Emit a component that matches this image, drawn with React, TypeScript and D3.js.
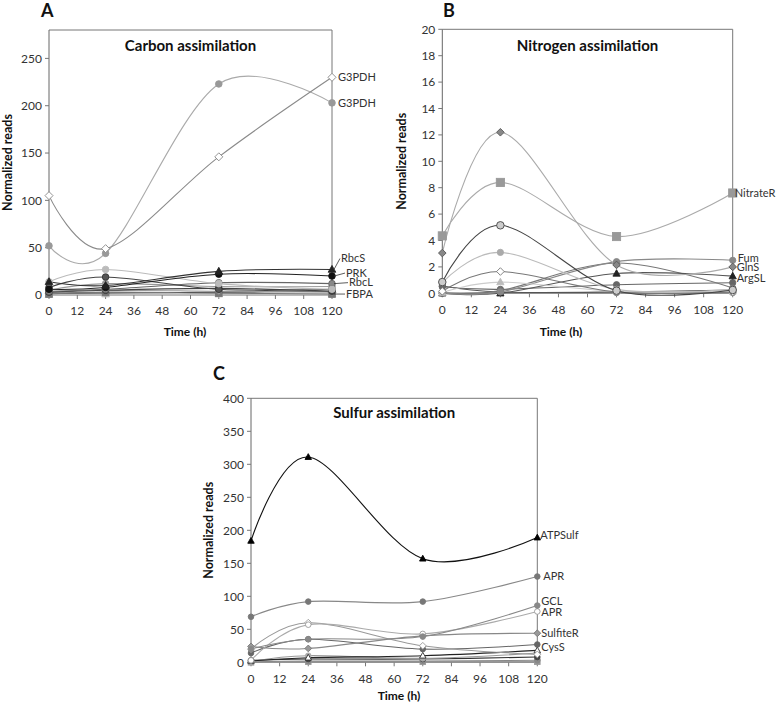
import React from "react";
import * as d3 from "d3";

// ---------- data ----------
const times = [0, 24, 72, 120];
const xTicks = [0, 12, 24, 36, 48, 60, 72, 84, 96, 108, 120];
const carbonYTicks = [0, 50, 100, 150, 200, 250];
const nitrogenYTicks = [0, 2, 4, 6, 8, 10, 12, 14, 16, 18, 20];
const sulfurYTicks = [0, 50, 100, 150, 200, 250, 300, 350, 400];

const carbonNames = ["G3PDH", "G3PDH", "RbcS", "PRK", "s5", "s6", "RbcL", "s8", "s9", "FBPA", "s11", "s12", "s13"];
const carbonValues = [
  [105, 49, 146, 230],
  [52, 44, 223, 203],
  [14, 10, 25, 27],
  [6, 8, 22, 20],
  [14, 27, 12, 6],
  [8, 19, 6, 6],
  [4, 6, 13, 12],
  [3, 5, 7, 4],
  [2, 5, 4, 3],
  [1, 3, 2, 1],
  [0.5, 1, 1, 1],
  [5, 12, 9, 9],
  [2, 2, 3, 4],
];

const nitrogenNames = ["GlnS", "NitrateR", "n3", "n4", "n5", "n6", "Fum", "ArgSL", "n9", "n10", "n11", "n12"];
const nitrogenValues = [
  [3.05, 12.2, 2.15, 2.0],
  [4.35, 8.4, 4.3, 7.6],
  [0.85, 5.15, 0.2, 0.25],
  [0.8, 3.1, 0.3, 0.3],
  [0.15, 1.65, 0.1, 0.1],
  [0.05, 0.85, 0.15, 0.15],
  [0.05, 0.1, 2.4, 2.5],
  [0, 0, 1.5, 1.3],
  [0.05, 0.2, 2.3, 0.4],
  [0.5, 0.3, 0.65, 0.8],
  [0.55, 0.1, 0.1, 0.25],
  [0, 0.05, 0.05, 0.05],
];

const sulfurNames = ["ATPSulf", "APR", "GCL", "APR", "c5", "SulfiteR", "c7", "CysS", "c9", "c10", "c11", "c12"];
const sulfurValues = [
  [184, 311, 157, 189],
  [69, 92, 92, 130],
  [20, 35, 39, 86],
  [3, 57, 43, 77],
  [20, 60, 25, 12],
  [24, 21, 40, 44],
  [14, 35, 20, 27],
  [2, 7, 10, 18],
  [1, 10, 6, 14],
  [3, 5, 5, 8],
  [0.5, 2, 2, 3],
  [0, 1, 1, 1],
];

// ---------- styles (kept separate from data) ----------
type Style = { shape: string; fill: string; stroke: string; line: string; size?: number };
const carbonStyles: Style[] = [
  { shape: "diamond", fill: "#fff", stroke: "#888", line: "#8a8a8a" },
  { shape: "circle", fill: "#999", stroke: "#999", line: "#aaa" },
  { shape: "triangle", fill: "#222", stroke: "#222", line: "#333" },
  { shape: "circle", fill: "#111", stroke: "#111", line: "#222" },
  { shape: "circle", fill: "#bbb", stroke: "#bbb", line: "#bbb" },
  { shape: "circle", fill: "#555", stroke: "#333", line: "#444" },
  { shape: "circle", fill: "#888", stroke: "#666", line: "#666" },
  { shape: "circle", fill: "#444", stroke: "#333", line: "#444" },
  { shape: "diamond", fill: "#999", stroke: "#777", line: "#999" },
  { shape: "square", fill: "#777", stroke: "#777", line: "#777" },
  { shape: "triangle", fill: "#bbb", stroke: "#bbb", line: "#bbb" },
  { shape: "circle", fill: "#999", stroke: "#999", line: "#999" },
  { shape: "circle", fill: "#222", stroke: "#222", line: "#222" },
];
const nitrogenStyles: Style[] = [
  { shape: "diamond", fill: "#888", stroke: "#555", line: "#aaa" },
  { shape: "square", fill: "#999", stroke: "#999", line: "#aaa", size: 1.3 },
  { shape: "circle", fill: "#ccc", stroke: "#444", line: "#444", size: 1.2 },
  { shape: "circle", fill: "#aaa", stroke: "#aaa", line: "#bbb" },
  { shape: "diamond", fill: "#fff", stroke: "#777", line: "#777" },
  { shape: "triangle", fill: "#bbb", stroke: "#bbb", line: "#ccc" },
  { shape: "circle", fill: "#888", stroke: "#888", line: "#888" },
  { shape: "triangle", fill: "#222", stroke: "#222", line: "#555" },
  { shape: "circle", fill: "#777", stroke: "#777", line: "#777" },
  { shape: "circle", fill: "#666", stroke: "#666", line: "#666" },
  { shape: "circle", fill: "#555", stroke: "#555", line: "#555" },
  { shape: "circle", fill: "#999", stroke: "#999", line: "#999" },
];
const sulfurStyles: Style[] = [
  { shape: "triangle", fill: "#000", stroke: "#000", line: "#111" },
  { shape: "circle", fill: "#777", stroke: "#777", line: "#888" },
  { shape: "circle", fill: "#888", stroke: "#888", line: "#888" },
  { shape: "circle", fill: "#fff", stroke: "#999", line: "#aaa" },
  { shape: "diamond", fill: "#fff", stroke: "#999", line: "#999" },
  { shape: "diamond", fill: "#999", stroke: "#777", line: "#888" },
  { shape: "circle", fill: "#666", stroke: "#666", line: "#666" },
  { shape: "triangle", fill: "#fff", stroke: "#333", line: "#222" },
  { shape: "circle", fill: "#aaa", stroke: "#aaa", line: "#999" },
  { shape: "circle", fill: "#444", stroke: "#444", line: "#333" },
  { shape: "circle", fill: "#888", stroke: "#888", line: "#888" },
  { shape: "square", fill: "#999", stroke: "#999", line: "#999" },
];

// right-side labels: series index, text nudge (px), whether a leader line is drawn
const carbonLabels = [
  { i: 0, dx: 6, dy: 0, leader: false },
  { i: 1, dx: 6, dy: 0, leader: false },
  { i: 2, dx: 9, dy: -11, leader: true },
  { i: 3, dx: 14, dy: -3, leader: true },
  { i: 6, dx: 17, dy: -1, leader: true },
  { i: 9, dx: 14, dy: 0, leader: true },
];
const nitrogenLabels = [
  { i: 1, dx: 2, dy: 0, leader: false },
  { i: 6, dx: 5, dy: -2.5, leader: false },
  { i: 0, dx: 4, dy: 0, leader: false },
  { i: 7, dx: 4, dy: 2.5, leader: false },
];
const sulfurLabels = [
  { i: 0, dx: 3, dy: -2, leader: false },
  { i: 1, dx: 6, dy: 0, leader: false },
  { i: 2, dx: 4, dy: -4, leader: false },
  { i: 3, dx: 4, dy: 1, leader: false },
  { i: 5, dx: 4, dy: 0, leader: false },
  { i: 7, dx: 4, dy: -3, leader: false },
];

const FONT = "Lato, 'Open Sans', sans-serif";

function Marker({ x, y, st, scale }: { x: number; y: number; st: Style; scale: number }) {
  const s = (st.size || 1) * scale;
  const common = { fill: st.fill, stroke: st.stroke, strokeWidth: 0.9 };
  if (st.shape === "circle") return <circle cx={x} cy={y} r={3.3 * s} {...common} />;
  if (st.shape === "square")
    return <rect x={x - 3.3 * s} y={y - 3.3 * s} width={6.6 * s} height={6.6 * s} {...common} />;
  if (st.shape === "diamond") {
    const r = 4 * s;
    return <path d={`M${x},${y - r}L${x + r},${y}L${x},${y + r}L${x - r},${y}Z`} {...common} />;
  }
  const r = 4 * s;
  return <path d={`M${x},${y - r}L${x + r * 0.95},${y + r * 0.7}L${x - r * 0.95},${y + r * 0.7}Z`} {...common} />;
}

type PanelProps = {
  letter: string;
  letterPos: [number, number];
  title: string;
  titleY: number;
  xRange: [number, number];
  yRange: [number, number];
  yMax: number;
  yTicks: number[];
  names: string[];
  values: number[][];
  styles: Style[];
  labels: { i: number; dx: number; dy: number; leader: boolean }[];
  yLabelX: number;
  timeX: number;
  timeY: number;
  markerScale: number;
};

function Panel(p: PanelProps) {
  const x = d3.scaleLinear().domain([0, 120]).range(p.xRange);
  const y = d3.scaleLinear().domain([0, p.yMax]).range(p.yRange);
  const line = d3
    .line<number>()
    .x((_, i) => x(times[i]))
    .y((v) => y(v))
    .curve(d3.curveCardinal.tension(0));
  const [x0, x1] = p.xRange;
  const [yb, yt] = p.yRange;
  const order = p.values.map((_, i) => i).reverse();
  return (
    <g fontFamily={FONT}>
      <text x={p.letterPos[0]} y={p.letterPos[1]} fontSize={18} fontWeight="bold" fill="#111">
        {p.letter}
      </text>
      {/* frame */}
      <path d={`M${x0},${yt}H${x1}V${yb}`} fill="none" stroke="#777" strokeWidth={1} />
      <line x1={x0} x2={x0} y1={yt} y2={yb} stroke="#666" strokeWidth={1} />
      <line x1={x0} x2={x1} y1={yb} y2={yb} stroke="#777" strokeWidth={1} />
      {/* y ticks */}
      {p.yTicks.map((t) => (
        <g key={"y" + t}>
          <line x1={x0 - 4} x2={x0} y1={y(t)} y2={y(t)} stroke="#777" />
          <text x={x0 - 7} y={y(t)} dy="0.35em" textAnchor="end" fontSize={12} fill="#333">
            {t}
          </text>
        </g>
      ))}
      {/* x ticks */}
      {xTicks.map((t) => (
        <g key={"x" + t}>
          <line x1={x(t)} x2={x(t)} y1={yb} y2={yb + 4} stroke="#777" />
          <text x={x(t)} y={yb + 16} dy="0.35em" textAnchor="middle" fontSize={12} fill="#333">
            {t}
          </text>
        </g>
      ))}
      <text x={(x0 + x1) / 2} y={p.titleY} textAnchor="middle" fontSize={15} fontWeight="bold" fill="#111">
        {p.title}
      </text>
      <text
        transform={`translate(${p.yLabelX},${(yb + yt) / 2}) rotate(-90)`}
        textAnchor="middle"
        fontSize={12.5}
        fontWeight="bold"
        fill="#111"
      >
        Normalized reads
      </text>
      <text x={p.timeX} y={p.timeY} textAnchor="middle" fontSize={12} fontWeight="bold" fill="#111">
        Time (h)
      </text>
      {/* series lines */}
      {order.map((i) => (
        <path key={"l" + i} d={line(p.values[i]) || ""} fill="none" stroke={p.styles[i].line} strokeWidth={1.1} />
      ))}
      {/* markers */}
      {order.map((i) =>
        p.values[i].map((v, j) => (
          <Marker key={`m${i}-${j}`} x={x(times[j])} y={y(v)} st={p.styles[i]} scale={p.markerScale} />
        ))
      )}
      {/* labels */}
      {p.labels.map((l, k) => {
        const px = x(120);
        const py = y(p.values[l.i][3]);
        const tx = px + l.dx;
        const ty = py + l.dy;
        return (
          <g key={"lab" + k}>
            {l.leader && <line x1={px + 2} y1={py} x2={tx - 1} y2={ty} stroke="#333" strokeWidth={0.8} />}
            <text x={tx} y={ty} dy="0.35em" fontSize={11} fill="#333">
              {p.names[l.i]}
            </text>
          </g>
        );
      })}
    </g>
  );
}

export default function App() {
  return (
    <svg
      width={778}
      height={703}
      style={{ position: "absolute", left: 0, top: 0, background: "#fff" }}
      xmlns="http://www.w3.org/2000/svg"
    >
      <rect width={778} height={703} fill="#fff" />
      <Panel
        letter="A"
        letterPos={[41, 17]}
        title="Carbon assimilation"
        titleY={51}
        xRange={[49, 332]}
        yRange={[295, 30]}
        yMax={280}
        yTicks={carbonYTicks}
        names={carbonNames}
        values={carbonValues}
        styles={carbonStyles}
        labels={carbonLabels}
        yLabelX={12}
        timeX={185}
        timeY={336}
        markerScale={1}
      />
      <Panel
        letter="B"
        letterPos={[443, 17]}
        title="Nitrogen assimilation"
        titleY={51}
        xRange={[442.3, 732.7]}
        yRange={[293.3, 29.3]}
        yMax={20}
        yTicks={nitrogenYTicks}
        names={nitrogenNames}
        values={nitrogenValues}
        styles={nitrogenStyles}
        labels={nitrogenLabels}
        yLabelX={406}
        timeX={561}
        timeY={336}
        markerScale={0.95}
      />
      <Panel
        letter="C"
        letterPos={[213, 380]}
        title="Sulfur assimilation"
        titleY={418}
        xRange={[251, 537.3]}
        yRange={[662.3, 398.3]}
        yMax={400}
        yTicks={sulfurYTicks}
        names={sulfurNames}
        values={sulfurValues}
        styles={sulfurStyles}
        labels={sulfurLabels}
        yLabelX={213}
        timeX={399}
        timeY={700}
        markerScale={0.85}
      />
    </svg>
  );
}
